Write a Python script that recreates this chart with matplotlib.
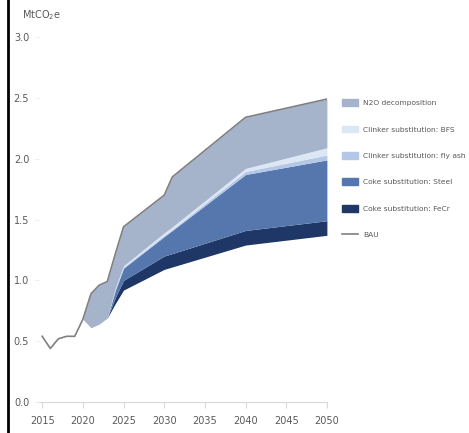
import numpy as np
import matplotlib
matplotlib.use("Agg")
import matplotlib.pyplot as plt
from matplotlib.lines import Line2D
from matplotlib.patches import Patch

plt.rcParams['font.family'] = ['Liberation Sans Narrow', 'DejaVu Sans']

# BAU emissions (MtCO2e)
bau_years = [2015, 2016, 2017, 2018, 2019, 2020, 2021, 2022, 2023, 2024, 2025, 2030, 2031, 2040, 2050]
bau = [0.54, 0.44, 0.52, 0.54, 0.54, 0.68, 0.89, 0.96, 0.99, 1.22, 1.44, 1.70, 1.85, 2.34, 2.49]

# abatement wedges, stacked on the remaining emissions
years = [2020, 2021, 2022, 2023, 2024, 2025, 2030, 2031, 2040, 2050]
remaining = [0.68, 0.61, 0.64, 0.69, 0.81, 0.92, 1.09, 1.11, 1.29, 1.37]
coke_fecr = [0.00, 0.00, 0.00, 0.00, 0.05, 0.08, 0.11, 0.11, 0.12, 0.12]
coke_steel = [0.00, 0.00, 0.00, 0.00, 0.06, 0.10, 0.16, 0.19, 0.46, 0.50]
clinker_flyash = [0.00, 0.00, 0.00, 0.00, 0.01, 0.01, 0.01, 0.01, 0.025, 0.04]
clinker_bfs = [0.00, 0.00, 0.00, 0.00, 0.01, 0.01, 0.02, 0.02, 0.025, 0.06]
n2o = [0.00, 0.28, 0.32, 0.30, 0.28, 0.32, 0.31, 0.41, 0.42, 0.40]

labels = ["Coke substitution: FeCr", "Coke substitution: Steel",
          "Clinker substitution: fly ash", "Clinker substitution: BFS",
          "N2O decomposition"]
colores = ["#1f3766", "#5677ad", "#b4c7e7", "#dce6f4", "#a5b3cb"]

fig = plt.figure(figsize=(4.69, 4.33), dpi=100)
ax = fig.add_axes([0.083, 0.0716, 0.614, 0.8429])

# stacked areas
bottom = np.array(remaining)
for serie, color in zip([coke_fecr, coke_steel, clinker_flyash, clinker_bfs, n2o], colores):
    top = bottom + np.array(serie)
    ax.fill_between(years, bottom, top, color=color, linewidth=0)
    bottom = top

ax.plot(bau_years, bau, color="#808080", linewidth=1.2)

ax.set_xlim(2014.6, 2050)
ax.set_ylim(0, 3.0)
ax.set_xticks(range(2015, 2051, 5))
ax.set_yticks(np.arange(0, 3.01, 0.5))
ax.set_yticklabels([f"{v:.1f}" for v in np.arange(0, 3.01, 0.5)])

for s in ["top", "right", "left"]:
    ax.spines[s].set_visible(False)
ax.spines["bottom"].set_color("#d9d9d9")
ax.tick_params(axis="x", colors="#d9d9d9", length=4, labelcolor="#595959", labelsize=7, pad=6)
ax.tick_params(axis="y", colors="#eeeeee", length=3, labelcolor="#595959", labelsize=7, pad=4)

fig.text(0.047, 0.965, r"MtCO$_2$e", fontsize=7, color="#595959", ha="left", va="center")

# legend, top entry first
handles = [Patch(color=c) for c in colores[::-1]] + [Line2D([], [], color="#808080", linewidth=1.2)]
fig.legend(handles, labels[::-1] + ["BAU"], loc="upper left",
           bbox_to_anchor=(0.729, 0.771), frameon=False, fontsize=5.4,
           labelcolor="#595959", handlelength=2.2, handleheight=1.0,
           handletextpad=0.6, labelspacing=2.6, borderaxespad=0, borderpad=0)

# frame line on the left edge
fig.add_artist(Line2D([8 / 469, 8 / 469], [0, 1], color="black", linewidth=2))

fig.savefig("out.png", dpi=100)
